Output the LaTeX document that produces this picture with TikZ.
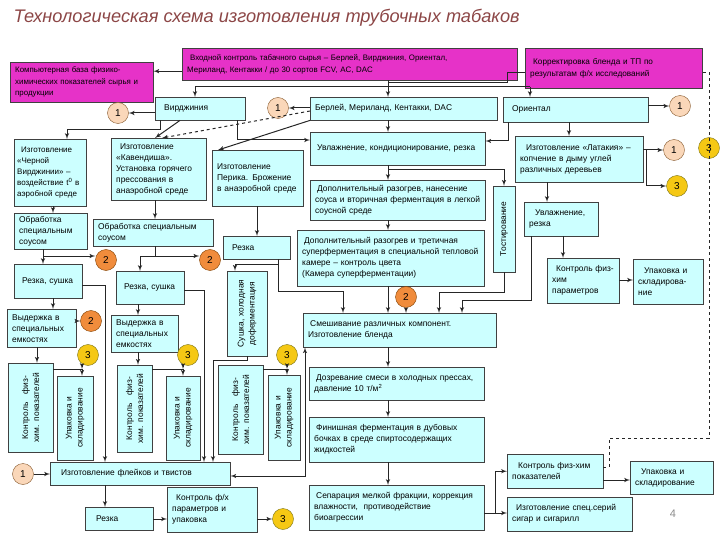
\documentclass[tikz,border=0pt]{standalone}
\usepackage{fontspec}
\setmainfont{Liberation Sans}
\usetikzlibrary{arrows}
\definecolor{boxcyan}{RGB}{204,255,255}
\definecolor{boxpink}{RGB}{230,50,200}
\definecolor{titlered}{RGB}{140,70,70}
\definecolor{peach}{RGB}{250,215,185}
\definecolor{orangec}{RGB}{240,140,60}
\definecolor{goldc}{RGB}{245,200,20}
\newcommand{\bxfont}{\fontsize{8.4}{11}\selectfont}
\newcommand{\smfont}{\fontsize{7.9}{11.5}\selectfont}
\tikzset{box/.style = {draw=black!75, fill=boxcyan, inner xsep=5pt, inner ysep=1pt,
                       align=left, font=\bxfont}}
\tikzset{pink/.style = {box, fill=boxpink}}
\tikzset{vbox/.style = {box, rotate=90, align=center}}
\tikzset{circ/.style = {circle, draw, inner sep=0pt, minimum size=21pt,
                        font=\fontsize{10}{10}\selectfont}}
\tikzset{circ1/.style = {circ, fill=peach, draw=brown!70!black}}
\tikzset{circ2/.style = {circ, fill=orangec, draw=orange!50!black}}
\tikzset{circ3/.style = {circ, fill=goldc, draw=olive!80!black}}
\tikzset{line/.style = {draw=black!85, line width=1pt}}
\tikzset{conn/.style = {line, -latex'}}
\tikzset{fb/.style = {draw=black!85, dashed, line width=0.6pt}}

\begin{document}
\begin{tikzpicture}[x=1pt, y=-1pt]
    \useasboundingbox (0,0) rectangle (720,540);

    \node [anchor=west, text=titlered, font=\fontsize{18.2}{18.2}\selectfont\itshape] (title) at (10,18)
        {Технологическая схема изготовления трубочных табаков};

    % top row
    \node [pink, anchor=north west, text width=133pt, minimum height=40pt, font=\smfont] (compdb) at (10,62)
        {Компьютерная база физико-\\химических показателей сырья и\\продукции};
    \node [pink, anchor=north west, text width=325pt, minimum height=32pt, font=\fontsize{7.9}{12}\selectfont] (inctrl) at (182,48)
        {\hspace{3pt}Входной контроль табачного сырья -- Берлей, Вирджиния, Ориентал,\\Мериланд, Кентакки / до 30 сортов FCV, AC, DAC};
    \node [pink, anchor=north west, text width=167pt, minimum height=40pt, font=\fontsize{8.2}{12.5}\selectfont] (korr) at (525,48)
        {\hspace{3pt}Корректировка бленда и ТП по\\результатам ф/х исследований};

    \node [box, anchor=north west, text width=80pt, minimum height=23pt] (virg) at (155,97) {\hspace{4pt}Вирджиния};
    \node [box, anchor=north west, text width=177pt, minimum height=23pt] (berl) at (310,97) {Берлей, Мериланд, Кентакки, DAC};
    \node [box, anchor=north west, text width=135pt, minimum height=25pt] (orient) at (503,97) {\hspace{4pt}Ориентал};

    \node [circ1] (n1a) at (118,113) {1};
    \node [circ1] (n1b) at (278,108) {1};
    \node [circ1] (n1c) at (680,106) {1};

    % second row
    \node [box, anchor=north west, inner xsep=3pt, text width=66pt, minimum height=67pt, font=\fontsize{8}{11}\selectfont] (chern) at (14,139)
        {\hspace{4pt}Изготовление\\«Черной\\Вирджинии» --\\воздействие t\textsuperscript{0} в\\аэробной среде};
    \node [box, anchor=north west, text width=85pt, minimum height=62pt] (kav) at (111,138)
        {\hspace{4pt}Изготовление\\«Кавендиша».\\Установка горячего\\прессования в\\анаэробной среде};
    \node [box, anchor=north west, text width=81pt, minimum height=56pt] (perik) at (212,150)
        {Изготовление\\Перика. Брожение\\в анаэробной среде};
    \node [box, anchor=north west, text width=165pt, minimum height=33pt] (uvl) at (310,132)
        {\hspace{2pt}Увлажнение, кондиционирование, резка};
    \node [box, anchor=north west, text width=165pt, minimum height=40pt] (dop1) at (310,180)
        {\hspace{2pt}Дополнительный разогрев, нанесение\\соуса и вторичная ферментация в легкой\\соусной среде};
    \node [vbox, minimum width=82pt, minimum height=22pt, text width=76pt] (tost) at (504,229) {Тостирование};
    \node [box, anchor=north west, text width=118pt, minimum height=46pt] (latak) at (515,136)
        {\hspace{6pt}Изготовление «Латакия» --\\копчение в дыму углей\\различных деревьев};

    \node [circ1] (n1d) at (674,150) {1};
    \node [circ3] (n3d) at (677,186) {3};
    \node [circ3] (n3e) at (709,148) {3};

    \node [box, anchor=north west, text width=64pt, minimum height=34pt] (uvlrez) at (524,202)
        {\hspace{6pt}Увлажнение,\\резка};
    \node [box, anchor=north west, text width=62pt, minimum height=45pt] (kfh) at (547,258)
        {\hspace{4pt}Контроль физ-\\хим\\параметров};
    \node [box, anchor=north west, text width=60pt, minimum height=45pt] (upak1) at (633,259)
        {\hspace{6pt}Упаковка и\\складирова-\\ние};

    % left branches
    \node [box, anchor=north west, text width=63pt, minimum height=36pt] (obr1) at (14,213)
        {Обработка\\специальным\\соусом};
    \node [box, anchor=north west, text width=110pt, minimum height=27pt] (obr2) at (93,219)
        {Обработка специальным\\соусом};
    \node [box, anchor=north west, text width=57pt, minimum height=23pt] (rezka) at (223,236) {\hspace{4pt}Резка};
    \node [vbox, minimum width=81pt, minimum height=40pt, text width=75pt] (suhka) at (247,313.5)
        {Сушка, холодная\\доферментация};
    \node [box, anchor=north west, text width=177pt, minimum height=56pt] (dop2) at (297,230)
        {\hspace{2pt}Дополнительный разогрев и третичная\\суперферментация в специальной тепловой\\камере -- контроль цвета\\(Камера суперферментации)};

    \node [box, anchor=north west, text width=58pt, minimum height=34pt] (rs1) at (14,264) {\hspace{3pt}Резка, сушка};
    \node [box, anchor=north west, text width=58pt, minimum height=33pt] (rs2) at (116,271) {\hspace{3pt}Резка, сушка};
    \node [box, anchor=north west, text width=59pt, minimum height=38pt] (vyd1) at (7,309)
        {Выдержка в\\специальных\\емкостях};
    \node [box, anchor=north west, text width=57pt, minimum height=37pt] (vyd2) at (111,315)
        {Выдержка в\\специальных\\емкостях};

    \node [circ2] (n2a) at (106,260) {2};
    \node [circ2] (n2b) at (210,260) {2};
    \node [circ2] (n2c) at (91,321) {2};
    \node [circ2] (n2d) at (406,297) {2};
    \node [circ3] (n3a) at (88,355) {3};
    \node [circ3] (n3b) at (188,355) {3};
    \node [circ3] (n3c) at (287,355) {3};

    \node [vbox, minimum width=85pt, minimum height=45pt, text width=79pt] (kf1) at (30.5,407.5)
        {Контроль \ \ физ-\\хим. показателей};
    \node [vbox, minimum width=80pt, minimum height=36pt, text width=74pt] (up1) at (75,418)
        {Упаковка и\\складирование};
    \node [vbox, minimum width=83pt, minimum height=35pt, text width=77pt] (kf2) at (134.5,408.5)
        {Контроль \ \ физ-\\хим. показателей};
    \node [vbox, minimum width=80pt, minimum height=34pt, text width=74pt] (up2) at (183,418)
        {Упаковка и\\складирование};
    \node [vbox, minimum width=85pt, minimum height=45pt, text width=79pt] (kf3) at (240.5,409.5)
        {Контроль \ \ физ-\\хим. показателей};
    \node [vbox, minimum width=81pt, minimum height=32pt, text width=75pt] (up3) at (284,417.5)
        {Упаковка и\\складирование};

    % centre column
    \node [box, anchor=north west, text width=183pt, minimum height=34pt] (smesh) at (303,313)
        {\hspace{2pt}Смешивание различных компонент.\\Изготовление бленда};
    \node [box, anchor=north west, text width=165pt, minimum height=33pt] (dozr) at (309,367)
        {\hspace{2pt}Дозревание смеси в холодных прессах,\\давление 10 т/м\textsuperscript{2}};
    \node [box, anchor=north west, text width=165pt, minimum height=45pt] (fin) at (309,417)
        {\hspace{2pt}Финишная ферментация в дубовых\\бочках в среде спиртосодержащих\\жидкостей};
    \node [box, anchor=north west, text width=165pt, minimum height=45pt] (sep) at (309,485)
        {\hspace{2pt}Сепарация мелкой фракции, коррекция\\влажности, \ противодействие\\биоагрессии};

    \node [box, anchor=north west, text width=86pt, minimum height=34pt] (kfh2) at (507,454)
        {\hspace{6pt}Контроль физ-хим\\показателей};
    \node [box, anchor=north west, text width=73pt, minimum height=33pt] (upak2) at (630,461)
        {\hspace{6pt}Упаковка и\\складирование};
    \node [box, anchor=north west, text width=115pt, minimum height=34pt] (spec) at (507,497)
        {\hspace{4pt}Изготовление спец.серий\\сигар и сигарилл};

    % bottom row
    \node [circ1] (n1e) at (23,474) {1};
    \node [box, anchor=north west, text width=170pt, minimum height=23pt] (flake) at (50,462)
        {\hspace{6pt}Изготовление флейков и твистов};
    \node [box, anchor=north west, text width=58pt, minimum height=23pt] (rez3) at (85,507) {\hspace{6pt}Резка};
    \node [box, anchor=north west, text width=80pt, minimum height=45pt] (kfu) at (167,487)
        {\hspace{4pt}Контроль ф/х\\параметров и\\упаковка};
    \node [circ3] (n3f) at (283,519) {3};

    \node [text=black!45, font=\fontsize{11}{11}\selectfont] (pnum) at (673,514) {4};

    % junctions
    \coordinate (bus) at (388,87);
    \coordinate (busL) at (195,87);
    \coordinate (busR) at (530,87);
    \coordinate (kj) at (507,83);
    \coordinate (vc) at (67,130);
    \coordinate (ut) at (388,170);
    \coordinate (ts) at (439,292);
    \coordinate (us) at (462,300);
    \coordinate (rj) at (278,264);
    \coordinate (rs) at (343,291);
    \coordinate (sf) at (213,360);
    \coordinate (o1) at (43,256);
    \coordinate (o2) at (140,256);
    \coordinate (f1) at (105,285);
    \coordinate (f2) at (204,290);
    \coordinate (k1) at (82,369);
    \coordinate (k2) at (183,369);
    \coordinate (k3) at (287,369);
    \coordinate (sj) at (495,513);
    \coordinate (d1) at (609,438);
    \coordinate (d2) at (709,72);

    % connectors, top
    \draw [conn] ([yshift=-7pt]inctrl.west) -- ([yshift=-7pt]inctrl.west -| compdb.east);
    \draw [line] (busL) -- (busR);
    \draw [conn] (inctrl.south -| bus) -- (bus |- berl.north);
    \draw [conn] (busL) -- (busL |- virg.north);
    \draw [conn] (busR) -- (busR |- orient.north);
    \draw [line] ([yshift=-4pt]korr.west) -| (kj) -- (kj -| bus);
    \draw [conn] (virg.west |- n1a) -- (n1a);
    \draw [conn] (berl.west |- n1b) -- (n1b);
    \draw [conn] (orient.east |- n1c) -- (n1c);

    \draw [conn] (virg.south -| 160,0) |- (vc) -- (vc |- chern.north);
    \draw [conn] (virg.south -| 180,0) -- (kav.north -| 155,0);
    \draw [conn, dashed] (berl.west |- 0,111) -- (kav.north -| 162,0);
    \draw [conn] (virg.south -| 237,0) |- (uvl.west |- 0,140);
    \draw [conn] (berl.south west) -- (perik.north -| 218,0);
    \draw [conn] (berl.south -| bus) -- (bus |- uvl.north);
    \draw [conn] (orient.south -| 508,0) |- (uvl.east |- 0,141);
    \draw [conn] (orient.south -| 569,0) -- (latak.north -| 569,0);

    \draw [conn] (uvl.south -| bus) -- (bus |- dop1.north);
    \draw [conn] (ut) -| (tost.east);
    \draw [conn] (dop1.south -| bus) -- (bus |- dop2.north);
    \draw [conn] (tost.west) |- (ts) -- (ts |- smesh.north);
    \draw [conn] (uvlrez.south -| 531,0) |- (us) -- (us |- smesh.north);
    \draw [conn] (dop2.south -| bus) -- (bus |- smesh.north);
    \draw [conn] (n2d.south) -- (n2d.south |- smesh.north);

    % right branch
    \draw [conn] (latak.east |- n1d) -- (n1d);
    \draw [conn] (latak.east |- n1d) ++(3,0) |- (n3d);
    \draw [conn] (latak.south -| 547,0) -- (uvlrez.north -| 547,0);
    \draw [conn] (uvlrez.south -| 563,0) -- (kfh.north -| 563,0);
    \draw [conn] (kfh.east |- 0,280) -- (upak1.west |- 0,280);

    % left branches
    \draw [conn] (chern.south -| 53,0) -- (obr1.north -| 53,0);
    \draw [conn] (kav.south -| 155,0) -- (obr2.north -| 155,0);
    \draw [line] (obr1.south -| o1) -- (o1);
    \draw [conn] (o1) -- (o1 |- rs1.north);
    \draw [conn] (o1) -- (o1 -| n2a.west);
    \draw [line] (obr2.south -| 155,0) |- (o2);
    \draw [conn] (o2) -- (o2 |- rs2.north);
    \draw [conn] (o2) -- (o2 -| n2b.west);
    \draw [conn] (perik.south -| 257,0) -- (rezka.north -| 257,0);
    \draw [line] (rezka.south -| rj) -- (rj);
    \draw [conn] (rj) -| (suhka.east -| 235,0);
    \draw [conn] (rj) |- (rs) -- (rs |- smesh.north);
    \draw [conn] (suhka.west) |- (sf) -- (sf |- flake.north);

    \draw [conn] (rs1.south -| 53,0) -- (vyd1.north -| 53,0);
    \draw [conn] (rs2.south -| 138,0) -- (vyd2.north -| 138,0);
    \draw [conn] (vyd1.east |- n2c) -- (n2c);
    \draw [conn] (vyd1.south -| 37,0) -- (kf1.east -| 37,0);
    \draw [conn] (vyd2.south -| 138,0) -- (kf2.east -| 138,0);
    \draw [conn] (rs1.east |- f1) -| (flake.north -| f1);
    \draw [conn] (rs2.east |- f2) -| (flake.north -| f2);

    \draw [line] (kf1.south |- k1) -- (k1);
    \draw [conn] (n3a.south -| k1) -- (k1);
    \draw [conn] (k1) -- (k1 |- up1.east);
    \draw [line] (kf2.south |- k2) -- (k2);
    \draw [conn] (n3b.south -| k2) -- (k2);
    \draw [conn] (k2) -- (k2 |- up2.east);
    \draw [line] (kf3.south |- k3) -- (k3);
    \draw [conn] (n3c.south -| k3) -- (k3);
    \draw [conn] (k3) -- (k3 |- up3.east);

    % centre column down
    \draw [conn] (smesh.south -| bus) -- (bus |- dozr.north);
    \draw [conn] (dozr.south -| bus) -- (bus |- fin.north);
    \draw [conn] (fin.south -| bus) -- (bus |- sep.north);
    \draw [latex'-latex', line] (smesh.south -| 305,0) |- (flake.east |- 0,476);
    \draw [line] (sep.east |- sj) -- (sj);
    \draw [conn] (sj) -- (sj -| spec.west);
    \draw [conn] (sj) |- (kfh2.west);
    \draw [conn] (kfh2.east |- 0,480) -- (upak2.west |- 0,480);
    \draw [fb] (kfh2.east |- 0,467) -| (d1) -| (d2) -- (korr.east |- d2);

    % bottom
    \draw [conn] (n1e) -- (flake.west |- n1e);
    \draw [conn] (flake.south -| 105,0) -- (rez3.north -| 105,0);
    \draw [conn] (rez3.east |- 0,519) -- (kfu.west |- 0,519);
    \draw [conn] (kfu.east |- n3f) -- (n3f);
\end{tikzpicture}
\end{document}
